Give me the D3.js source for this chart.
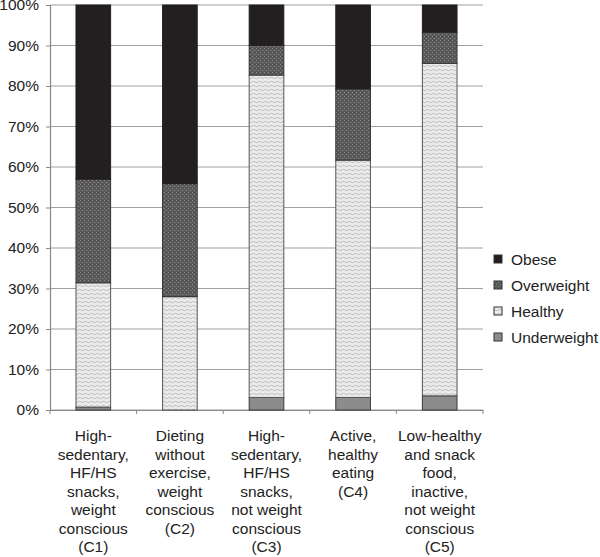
<!DOCTYPE html>
<html><head><meta charset="utf-8">
<script src="https://cdn.jsdelivr.net/npm/d3@7"></script>
<style>body{margin:0;background:#fff}svg{display:block}text{font-family:"Liberation Sans",Arial,sans-serif}</style>
</head><body>
<svg id="chart" width="600" height="557"></svg>
<script>
const categories = ["C1","C2","C3","C4","C5"];
const categoryLabels = [
  ["High-","sedentary,","HF/HS","snacks,","weight","conscious","(C1)"],
  ["Dieting","without","exercise,","weight","conscious","(C2)"],
  ["High-","sedentary,","HF/HS","snacks,","not weight","conscious","(C3)"],
  ["Active,","healthy","eating","(C4)"],
  ["Low-healthy","and snack","food,","inactive,","not weight","conscious","(C5)"]
];
const seriesNames = ["Underweight","Healthy","Overweight","Obese"];
const underweight = [0.7, 0.0, 3.1, 3.1, 3.5];
const healthy     = [30.7, 28.0, 79.6, 58.6, 82.1];
const overweight  = [25.6, 27.9, 7.3, 17.6, 7.7];
const obese       = [43.0, 44.1, 10.0, 20.7, 6.7];
const yTicks = [0,10,20,30,40,50,60,70,80,90,100];

const svg = d3.select("#chart");
const m = {left:50, right:117, top:5, bottom:147};
const W = 600, H = 557;
const x = d3.scaleBand().domain(categories).range([m.left, W-m.right]).paddingInner(0.6).paddingOuter(0.3);
const y = d3.scaleLinear().domain([0,100]).range([H-m.bottom, m.top]);

const defs = svg.append("defs");
const ph = defs.append("pattern").attr("id","pHealthy").attr("patternUnits","userSpaceOnUse").attr("width",6).attr("height",4);
ph.append("rect").attr("width",6).attr("height",4).attr("fill","#ececec");
ph.append("path").attr("d","M0,2 Q1.5,0.6 3,2 T6,2").attr("fill","none").attr("stroke","#b4b4b4").attr("stroke-width",0.9);
const po = defs.append("pattern").attr("id","pOver").attr("patternUnits","userSpaceOnUse").attr("width",4).attr("height",4);
po.append("rect").attr("width",4).attr("height",4).attr("fill","#5a5a5a");
po.append("rect").attr("x",0).attr("y",0).attr("width",1).attr("height",1).attr("fill","#8a8a8a");
po.append("rect").attr("x",2).attr("y",2).attr("width",1).attr("height",1).attr("fill","#8a8a8a");
po.append("rect").attr("x",2).attr("y",0).attr("width",1).attr("height",1).attr("fill","#444");

const fills = {Underweight:"#8c8c8c", Healthy:"url(#pHealthy)", Overweight:"url(#pOver)", Obese:"#231f20"};
const strokes = {Underweight:"#3a3a3a", Healthy:"#555", Overweight:"#333", Obese:"#231f20"};

svg.append("g").selectAll("line").data(yTicks).join("line")
  .attr("x1", m.left).attr("x2", W-m.right)
  .attr("y1", d=>y(d)).attr("y2", d=>y(d))
  .attr("stroke","#a0a0a0").attr("stroke-width",1.2);

const yAxis = d3.axisLeft(y).tickValues(yTicks).tickFormat(d=>d+"%").tickSize(4);
const ga = svg.append("g").attr("transform",`translate(${m.left},0)`).call(yAxis);
ga.select(".domain").attr("stroke","#888").attr("stroke-width",1.2);
ga.selectAll(".tick line").attr("stroke","#888");
ga.selectAll("text").attr("font-size",15.5).attr("fill","#222").attr("x",-11);

const xAxis = d3.axisBottom(x).tickSize(0).tickFormat("");
const gx = svg.append("g").attr("transform",`translate(0,${y(0)})`).call(xAxis);
gx.select(".domain").attr("stroke","#888").attr("stroke-width",1.2);
const step = x.step();
const bounds = d3.range(categories.length+1).map(i => m.left + i*step);
svg.append("g").selectAll("line").data(bounds).join("line")
  .attr("x1",d=>d).attr("x2",d=>d).attr("y1",y(0)).attr("y2",y(0)+4)
  .attr("stroke","#888");

const rows = categories.map((c,i)=>({cat:c, Underweight:underweight[i], Healthy:healthy[i], Overweight:overweight[i], Obese:obese[i]}));
const stack = d3.stack().keys(seriesNames)(rows);
svg.append("g").selectAll("g").data(stack).join("g")
  .attr("fill", d=>fills[d.key]).attr("stroke", d=>strokes[d.key]).attr("stroke-width",1)
  .selectAll("rect").data(d=>d.filter(p=>p[1]-p[0]>0)).join("rect")
  .attr("x", d=>x(d.data.cat)).attr("width", x.bandwidth())
  .attr("y", d=>y(d[1])).attr("height", d=>Math.max(0.8, y(d[0])-y(d[1])));

const lab = svg.append("g");
categories.forEach((c,i)=>{
  const t = lab.append("text").attr("text-anchor","middle").attr("font-size",15.5).attr("fill","#222");
  categoryLabels[i].forEach((line,j)=>{
    t.append("tspan").attr("x", x(c)+x.bandwidth()/2).attr("y", 441 + j*18.5).text(line);
  });
});

const legendOrder = ["Obese","Overweight","Healthy","Underweight"];
const lg = svg.append("g");
legendOrder.forEach((k,i)=>{
  const yy = 259 + i*26;
  lg.append("rect").attr("x",494).attr("y",yy-4).attr("width",8).attr("height",8)
    .attr("fill",fills[k]).attr("stroke", "#333").attr("stroke-width",1);
  lg.append("text").attr("x",511).attr("y",yy+5.5).attr("font-size",15.5).attr("fill","#222").text(k);
});
</script>
</body></html>
